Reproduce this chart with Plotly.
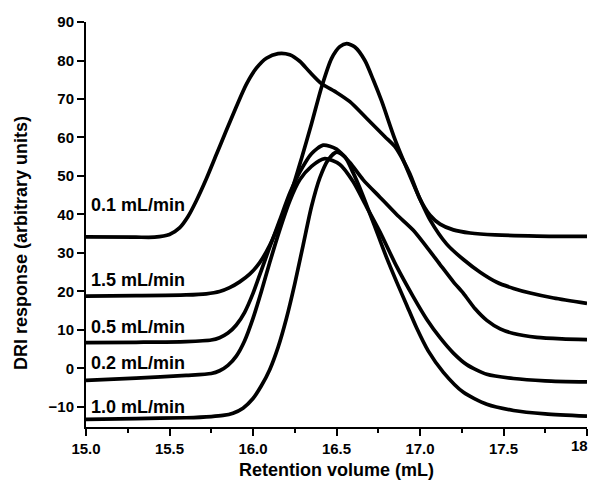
import plotly.graph_objects as go

# Series (retention volume in mL, DRI response)
labels = ["0.1 mL/min", "1.5 mL/min", "0.5 mL/min", "0.2 mL/min", "1.0 mL/min"]

x_01 = [15.0, 15.3, 15.41, 15.5, 15.56, 15.61, 15.66, 15.72, 15.78, 15.84, 15.9, 15.96, 16.02, 16.08,
        16.15, 16.22, 16.28, 16.34, 16.41, 16.5, 16.58, 16.68, 16.79, 16.85, 16.9, 16.94, 17.0, 17.06,
        17.12, 17.2, 17.3, 17.45, 17.7, 18.0]
y_01 = [34.2, 34.1, 34.1, 34.8, 36.5, 39.4, 43.5, 49.2, 55.5, 61.8, 68.0, 73.8, 78.0, 80.6,
        81.8, 81.5, 79.8, 77.0, 74.0, 71.7, 69.3, 65.0, 60.2, 57.6, 54.0, 50.5, 44.0, 39.8,
        37.5, 36.0, 35.2, 34.7, 34.4, 34.3]

x_15 = [15.0, 15.3, 15.6, 15.72, 15.8, 15.86, 15.92, 15.98, 16.04, 16.1, 16.17, 16.23, 16.29, 16.35,
        16.41, 16.47, 16.52, 16.56, 16.61, 16.67, 16.72, 16.77, 16.85, 16.93, 17.0, 17.06, 17.16,
        17.26, 17.36, 17.46, 17.56, 17.66, 17.8, 18.0]
y_15 = [18.8, 18.9, 19.1, 19.4, 20.0, 21.0, 22.5, 24.5, 27.5, 32.0, 39.0, 46.0, 54.5, 63.5,
        73.0, 80.5, 83.6, 84.4, 83.5, 80.0, 75.0, 69.5, 59.5, 51.0, 44.0, 38.6, 32.3,
        28.3, 25.0, 22.4, 20.8, 19.6, 18.3, 16.9]

x_05 = [15.0, 15.3, 15.6, 15.75, 15.8, 15.85, 15.9, 15.95, 16.0, 16.05, 16.1, 16.16, 16.22, 16.28,
        16.35, 16.42, 16.5, 16.58, 16.66, 16.76, 16.86, 16.96, 17.05, 17.12, 17.2, 17.26, 17.33,
        17.4, 17.48, 17.56, 17.7, 17.85, 18.0]
y_05 = [6.7, 6.8, 7.0, 7.4, 8.0, 9.2, 11.3, 14.6, 19.5, 25.5, 31.5, 38.5, 45.5, 51.0,
        55.8, 58.0, 57.0, 53.5, 49.0, 44.5, 40.0, 35.9, 31.0, 27.0, 22.5, 19.5, 15.5,
        12.5, 10.3, 9.1, 8.1, 7.7, 7.5]

x_02 = [15.0, 15.3, 15.6, 15.75, 15.8, 15.85, 15.9, 15.95, 16.0, 16.05, 16.1, 16.16, 16.22, 16.28,
        16.35, 16.43, 16.52, 16.6, 16.68, 16.76, 16.86, 16.96, 17.04, 17.12, 17.2, 17.28, 17.4,
        17.56, 17.75, 18.0]
y_02 = [-3.1, -2.5, -1.8, -1.3, -0.6, 0.8, 3.2, 7.2, 13.0, 20.0, 27.5, 36.0, 43.5, 49.0,
        52.5, 54.5, 53.0, 48.5, 42.0, 35.5, 26.5, 18.6, 12.8, 8.0, 4.0, 1.0, -1.5,
        -2.6, -3.2, -3.5]

x_10 = [15.0, 15.3, 15.6, 15.75, 15.82, 15.88, 15.94, 16.0, 16.05, 16.1, 16.15, 16.2, 16.25, 16.3,
        16.35, 16.4, 16.45, 16.5, 16.55, 16.6, 16.65, 16.7, 16.75, 16.8, 16.86, 16.92, 16.98,
        17.05, 17.14, 17.26, 17.4, 17.56, 17.75, 18.0]
y_10 = [-13.2, -13.0, -12.8, -12.5, -12.2, -11.6, -10.3, -7.8, -4.5, -0.3, 5.5, 13.0, 22.0, 32.0,
        42.0, 49.5, 54.2, 56.2, 55.0, 50.8, 45.8, 40.2, 34.5, 28.8, 22.5, 16.5, 10.5,
        4.5, -1.0, -6.2, -9.3, -10.9, -11.8, -12.4]

label_y = [42.4, 22.9, 10.8, 1.4, -9.9]

x_tickvals = [15.0, 15.5, 16.0, 16.5, 17.0, 17.5, 18.0]
x_ticktext = ["15.0", "15.5", "16.0", "16.5", "17.0", "17.5", ""]
last_tick_text = "18"
y_tickvals = [-10, 0, 10, 20, 30, 40, 50, 60, 70, 80, 90]

xs = [x_01, x_15, x_05, x_02, x_10]
ys = [y_01, y_15, y_05, y_02, y_10]

FONT = "Liberation Sans, Arial, Helvetica, sans-serif"

fig = go.Figure()
for name, xv, yv in zip(labels, xs, ys):
    fig.add_trace(go.Scatter(x=xv, y=yv, mode="lines", name=name,
                             line=dict(color="black", width=3.7, shape="spline", smoothing=0.7),
                             showlegend=False))

for name, ly in zip(labels, label_y):
    fig.add_annotation(x=15.02, y=ly, xref="x", yref="y", text=name, showarrow=False,
                       xanchor="left", yanchor="middle",
                       font=dict(family=FONT, size=18, color="black", weight="bold"))

# last x tick label, kept inside the picture edge
fig.add_annotation(x=x_tickvals[-1], y=-0.046, xref="x", yref="paper", text=last_tick_text,
                   showarrow=False, xanchor="right", yanchor="middle", xshift=3,
                   font=dict(family=FONT, size=15, color="black", weight="bold"))

fig.add_annotation(x=0.5, y=-0.106, xref="paper", yref="paper", text="Retention volume (mL)",
                   showarrow=False, xanchor="center", yanchor="middle",
                   font=dict(family=FONT, size=18, color="black", weight="bold"))
fig.add_annotation(x=-0.13, y=0.454, xref="paper", yref="paper", text="DRI response (arbitrary units)",
                   showarrow=False, xanchor="center", yanchor="middle", textangle=-90,
                   font=dict(family=FONT, size=18, color="black", weight="bold"))

fig.update_xaxes(range=[15.0, 18.0], tickmode="array",
                 tickvals=x_tickvals, ticktext=x_ticktext,
                 ticks="outside", ticklen=7, tickwidth=2, tickcolor="black",
                 automargin=False,
                 minor=dict(tickvals=[15.25, 15.75, 16.25, 16.75, 17.25, 17.75],
                            ticks="outside", ticklen=4, tickwidth=2, tickcolor="black"),
                 showline=True, linecolor="black", linewidth=2, showgrid=False, zeroline=False,
                 tickfont=dict(family=FONT, size=15, color="black", weight="bold"))
fig.update_yaxes(range=[-15.2, 90], tickmode="array",
                 tickvals=y_tickvals,
                 ticks="outside", ticklen=7, tickwidth=2, tickcolor="black",
                 automargin=False,
                 showline=True, linecolor="black", linewidth=2, showgrid=False, zeroline=False,
                 tickfont=dict(family=FONT, size=15, color="black", weight="bold"))

fig.update_layout(width=591, height=485, margin=dict(l=86, r=4, t=22, b=58),
                  plot_bgcolor="white", paper_bgcolor="white")

fig.write_html("out.html")
